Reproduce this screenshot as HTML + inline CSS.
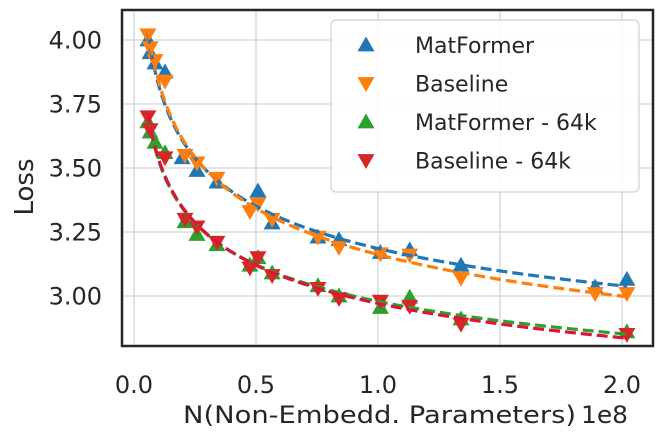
<!DOCTYPE html>
<html><head><meta charset="utf-8"><style>
html,body{margin:0;padding:0;background:#fff}
svg{display:block;font-family:"DejaVu Sans","Liberation Sans",sans-serif}
</style></head><body>
<svg id="chart" width="664" height="446" viewBox="0 0 664 446"></svg>
<script>
const xTicks=[0,0.5,1.0,1.5,2.0];
const xTickLabels=["0.0","0.5","1.0","1.5","2.0"];
const yTicks=[3.0,3.25,3.5,3.75,4.0];
const yTickLabels=["3.00","3.25","3.50","3.75","4.00"];
const matX=[0.057,0.066,0.086,0.127,0.197,0.258,0.34,0.508,0.566,0.754,0.84,1.01,1.13,1.34,1.89,2.02];
const matY=[4.00,3.95,3.91,3.875,3.54,3.49,3.445,3.41,3.285,3.23,3.22,3.17,3.18,3.12,3.035,3.065];
const baseX=[0.057,0.066,0.086,0.127,0.209,0.258,0.34,0.475,0.508,0.566,0.754,0.84,1.01,1.13,1.34,1.89,2.02];
const baseY=[4.02,3.97,3.92,3.84,3.55,3.52,3.46,3.33,3.36,3.30,3.23,3.19,3.165,3.16,3.07,3.01,3.01];
const mat64X=[0.057,0.066,0.086,0.127,0.209,0.258,0.34,0.475,0.508,0.566,0.754,0.84,1.01,1.13,1.34,2.02];
const mat64Y=[3.68,3.64,3.60,3.56,3.29,3.24,3.20,3.12,3.15,3.09,3.04,3.00,2.955,2.995,2.91,2.86];
const base64X=[0.057,0.066,0.127,0.209,0.258,0.34,0.475,0.508,0.566,0.754,0.84,1.01,1.13,1.34,2.02];
const base64Y=[3.70,3.65,3.54,3.30,3.27,3.21,3.11,3.15,3.08,3.03,2.99,2.98,2.96,2.89,2.85];

const svg=document.getElementById('chart');
const NS='http://www.w3.org/2000/svg';
const L=122,R=653,T=10,B=346;
const sx=v=>134+244*v;
const sy=v=>40+(4-v)*256;
function mk(tag,attrs,parent){const e=document.createElementNS(NS,tag);for(const k in attrs)e.setAttribute(k,attrs[k]);(parent||svg).appendChild(e);return e;}

const grid=mk('g',{});


xTicks.forEach((t,i)=>{
  mk('line',{x1:sx(t),x2:sx(t),y1:T,y2:B,stroke:'#dcdcdc','stroke-width':1.6},grid);
  const tx=mk('text',{x:sx(t),y:393,'font-size':24,'text-anchor':'middle',fill:'#262626'});
  tx.textContent=xTickLabels[i];
  
  
});
yTicks.forEach((t,i)=>{
  mk('line',{x1:L,x2:R,y1:sy(t),y2:sy(t),stroke:'#dcdcdc','stroke-width':1.6},grid);
  const tx=mk('text',{x:102,y:sy(t)+8.5,'font-size':24,'text-anchor':'end',fill:'#262626'});
  tx.textContent=yTickLabels[i];
  
  
});

const clip=mk('clipPath',{id:'pc'});mk('rect',{x:L,y:T,width:R-L,height:B-T},clip);
const plot=mk('g',{'clip-path':'url(#pc)'});



function tri(x,y,up,color,g){
  const s=8.5;
  const p=up?`${x},${y-s} ${x-s},${y+s*0.75} ${x+s},${y+s*0.75}`:`${x},${y+s} ${x-s},${y-s*0.75} ${x+s},${y-s*0.75}`;
  const e=mk('polygon',{points:p,fill:color},g);
  
  
}
function fit(xs,ys){
  let best=null;
  const mn=Math.min(...ys);
  for(let c=mn-1.5;c<mn-0.005;c+=0.005){
    let n=xs.length,sxl=0,syl=0,sxx=0,sxy=0;
    for(let i=0;i<n;i++){const a=Math.log(xs[i]),b=Math.log(ys[i]-c);sxl+=a;syl+=b;sxx+=a*a;sxy+=a*b;}
    const k=(n*sxy-sxl*syl)/(n*sxx-sxl*sxl),m=(syl-k*sxl)/n;
    let sse=0;for(let i=0;i<n;i++){const p=c+Math.exp(m+k*Math.log(xs[i]));sse+=(p-ys[i])**2;}
    if(!best||sse<best.sse)best={c,k,m,sse};
  }
  return x=>best.c+Math.exp(best.m+best.k*Math.log(x));
}
const series=[
  {name:'matformer',x:matX,y:matY,up:true,color:'#1f77b4',line:'#1f77b4'},
  {name:'baseline',x:baseX,y:baseY,up:false,color:'#ff7f0e',line:'#ff7f0e'},
  {name:'matformer-64k',x:mat64X,y:mat64Y,up:true,color:'#2ca02c',line:'#2ca02c'},
  {name:'baseline-64k',x:base64X,y:base64Y,up:false,color:'#d62728',line:'#dc143c'}
];
series.forEach(s=>{
  const g=mk('g',{});
  
  
  plot.appendChild(g);
  s.x.forEach((x,i)=>tri(sx(x),sy(s.y[i]),s.up,s.color,g));
});
series.forEach(s=>{
  const f=fit(s.x,s.y);
  const x0=Math.min(...s.x),x1=Math.max(...s.x);
  let d='';
  for(let i=0;i<=200;i++){const x=x0+(x1-x0)*i/200;d+=(i?'L':'M')+sx(x).toFixed(2)+','+sy(f(x)).toFixed(2);}
  const p=mk('path',{d,fill:'none',stroke:s.line,'stroke-width':3.2,'stroke-dasharray':'11,5'},plot);
  
  
});

const fr=mk('rect',{x:L,y:T,width:R-L,height:B-T,fill:'none',stroke:'#262626','stroke-width':2.5});



const lg=mk('g',{});


mk('rect',{x:331,y:20,width:308,height:172,rx:5,fill:'#fff','fill-opacity':0.85,stroke:'#d0d0d0','stroke-width':1.2},lg);
const labels=['MatFormer','Baseline','MatFormer - 64k','Baseline - 64k'];
series.forEach((s,i)=>{
  const y=45+i*38.5;
  const eg=mk('g',{},lg);
  
  
  tri(366,y,s.up,s.color,eg);
  const t=mk('text',{x:415,y:y+8,'font-size':22,fill:'#262626'},eg);
  t.textContent=labels[i];
});

const xl=mk('text',{x:183,y:423,'font-size':24,textLength:393,lengthAdjust:'spacingAndGlyphs',fill:'#262626'});
xl.textContent='N(Non-Embedd. Parameters)';


const ex=mk('text',{x:581,y:423,'font-size':24,textLength:47,lengthAdjust:'spacingAndGlyphs',fill:'#262626'});
ex.textContent='1e8';


const yl=mk('text',{x:0,y:0,'font-size':26,'text-anchor':'middle',fill:'#262626',transform:'translate(33,187) rotate(-90)'});
yl.textContent='Loss';


</script>
</body></html>
